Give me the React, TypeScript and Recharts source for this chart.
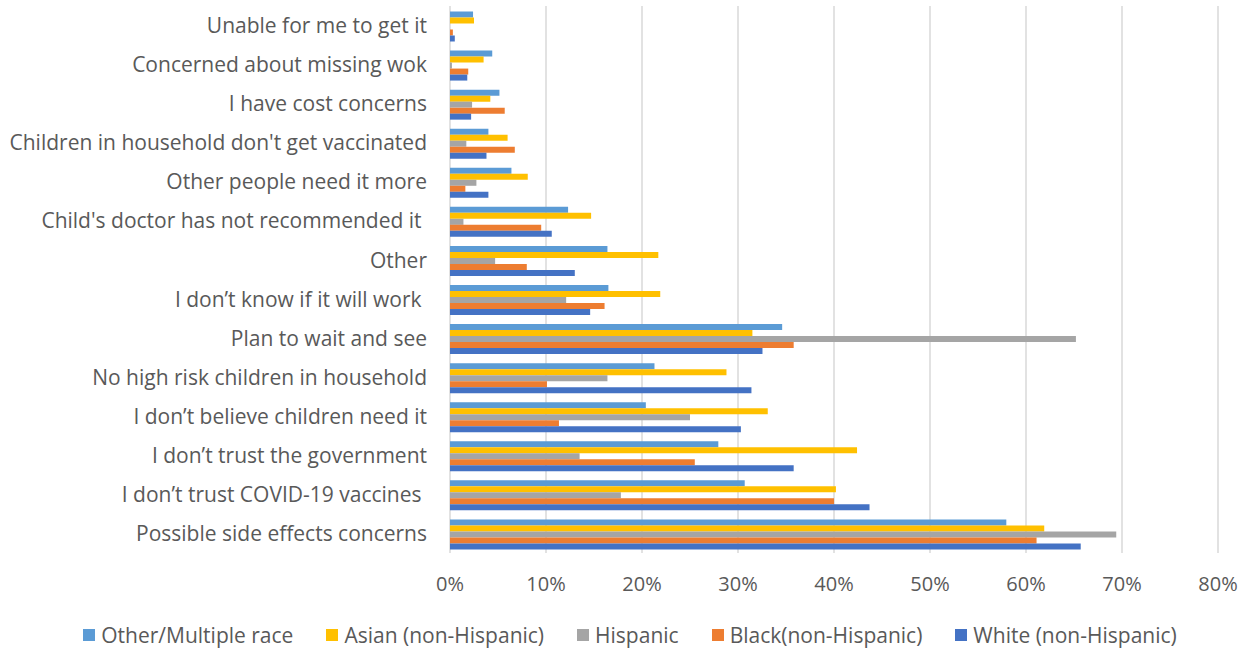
import React from "react";
import { BarChart, Bar, XAxis, YAxis, CartesianGrid, Legend } from "recharts";

// Reasons for not vaccinating children, by race/ethnicity (percent of respondents)
const categories = [
  "Unable for me to get it",
  "Concerned about missing wok",
  "I have cost concerns",
  "Children in household don't get vaccinated",
  "Other people need it more",
  "Child's doctor has not recommended it ",
  "Other",
  "I don\u2019t know if it will work ",
  "Plan to wait and see",
  "No high risk children in household",
  "I don\u2019t believe children need it",
  "I don\u2019t trust the government",
  "I don\u2019t trust COVID-19 vaccines ",
  "Possible side effects concerns",
];

const otherMultiple = [2.4, 4.4, 5.15, 4.0, 6.4, 12.3, 16.4, 16.5, 34.6, 21.3, 20.4, 27.95, 30.7, 57.95];
const asian = [2.5, 3.5, 4.2, 6.0, 8.1, 14.7, 21.7, 21.9, 31.5, 28.8, 33.1, 42.4, 40.2, 61.9];
const hispanic = [0, 0.2, 2.3, 1.7, 2.75, 1.4, 4.7, 12.1, 65.2, 16.4, 25.0, 13.5, 17.8, 69.4];
const black = [0.3, 1.9, 5.7, 6.75, 1.6, 9.5, 8.0, 16.1, 35.8, 10.1, 11.35, 25.5, 40.0, 61.1];
const white = [0.5, 1.8, 2.2, 3.8, 4.0, 10.6, 13.0, 14.6, 32.55, 31.4, 30.3, 35.8, 43.7, 65.7];

const xTicks = [0, 10, 20, 30, 40, 50, 60, 70, 80];

const seriesNames = [
  "Other/Multiple race",
  "Asian (non-Hispanic)",
  "Hispanic",
  "Black(non-Hispanic)",
  "White (non-Hispanic)",
];
const seriesColors = ["#5B9BD5", "#FFC000", "#A5A5A5", "#ED7D31", "#4472C4"];
const seriesValues = [otherMultiple, asian, hispanic, black, white];
const seriesKeys = ["other", "asian", "hispanic", "black", "white"];

const data = categories.map((name, i) => {
  const row: Record<string, string | number> = { name };
  seriesKeys.forEach((k, s) => {
    row[k] = seriesValues[s][i];
  });
  return row;
});

const FONT = "'Open Sans', 'Noto Sans', sans-serif";
const TEXT = "#595959";

function CategoryTick(props: any) {
  const { x, y, payload } = props;
  return (
    <text
      x={x}
      y={y}
      dy="0.36em"
      textAnchor="end"
      fill={TEXT}
      fontSize={21}
      fontFamily={FONT}
      style={{ whiteSpace: "pre" }}
    >
      {payload.value}
    </text>
  );
}

function LegendContent(props: any) {
  const payload = [...(props.payload || [])].sort(
    (a: any, b: any) => seriesNames.indexOf(a.value) - seriesNames.indexOf(b.value)
  );
  return (
    <div
      style={{
        height: 40,
        display: "flex",
        justifyContent: "center",
        alignItems: "center",
        gap: 33,
        fontFamily: FONT,
        fontSize: 21,
        color: TEXT,
        paddingTop: 6,
        paddingLeft: 42,
        boxSizing: "border-box",
      }}
    >
      {payload.map((p: any) => (
        <div key={p.value} style={{ display: "flex", alignItems: "center", gap: 6 }}>
          <span style={{ width: 12, height: 12, background: p.color, display: "inline-block" }} />
          <span style={{ whiteSpace: "pre" }}>{p.value}</span>
        </div>
      ))}
    </div>
  );
}

export default function App() {
  return (
    <div style={{ position: "absolute", left: 0, top: 0, width: 1253, height: 652, background: "#fff" }}>
      <BarChart
        width={1253}
        height={652}
        data={data}
        layout="vertical"
        margin={{ top: 6, right: 35, bottom: 0, left: 0 }}
        barCategoryGap={5.5}
        barGap={0}
      >
        <CartesianGrid horizontal={false} stroke="#D9D9D9" strokeWidth={1.5} />
        <XAxis
          type="number"
          domain={[0, 80]}
          ticks={xTicks}
          tickFormatter={(v: number) => `${v}%`}
          axisLine={false}
          tickLine={false}
          tickSize={0}
          tickMargin={24}
          height={59}
          tick={{ fill: TEXT, fontSize: 20, fontFamily: FONT }}
        />
        <YAxis
          type="category"
          dataKey="name"
          width={450}
          axisLine={false}
          tickLine={false}
          tickSize={0}
          tickMargin={23}
          interval={0}
          tick={<CategoryTick />}
        />
        <Legend verticalAlign="bottom" content={<LegendContent />} />
        {seriesKeys.map((k, s) => (
          <Bar
            key={k}
            dataKey={k}
            name={seriesNames[s]}
            fill={seriesColors[s]}
            isAnimationActive={false}
          />
        ))}
      </BarChart>
    </div>
  );
}
